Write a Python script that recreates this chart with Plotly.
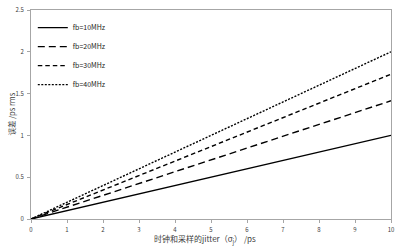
import plotly.graph_objects as go

jitter_ps = [0, 1, 2, 3, 4, 5, 6, 7, 8, 9, 10]
err_10mhz = [0, 0.10, 0.20, 0.30, 0.40, 0.50, 0.60, 0.70, 0.80, 0.90, 1.00]
err_20mhz = [0, 0.141, 0.283, 0.424, 0.566, 0.707, 0.849, 0.990, 1.131, 1.273, 1.414]
err_30mhz = [0, 0.173, 0.346, 0.520, 0.693, 0.866, 1.039, 1.212, 1.386, 1.559, 1.732]
err_40mhz = [0, 0.20, 0.40, 0.60, 0.80, 1.00, 1.20, 1.40, 1.60, 1.80, 2.00]
series_names = ["fb=10MHz", "fb=20MHz", "fb=30MHz", "fb=40MHz"]
series_values = [err_10mhz, err_20mhz, err_30mhz, err_40mhz]
x_ticks = [0, 1, 2, 3, 4, 5, 6, 7, 8, 9, 10]
y_ticks = [0, 0.5, 1, 1.5, 2, 2.5]
y_tick_text = ["0", "0.5", "1", "1.5", "2", "2.5"]
x_title = "时钟和采样的jitter（σ<sub>j</sub>） /ps"
y_title = "误差 /ps rms"

dashes = ["solid", "7px,4px", "4.5px,3px", "2px,1.5px"]
font = "Noto Sans CJK SC"

fig = go.Figure()
for i, (name, vals) in enumerate(zip(series_names, series_values)):
    fig.add_trace(go.Scatter(
        x=jitter_ps, y=vals, mode="lines", name=name,
        legendgroup=f"g{i}",
        line=dict(color="black", width=1.4, dash=dashes[i]),
    ))

axis_common = dict(
    showgrid=False, zeroline=False, showline=True, linecolor="#a6a6a6",
    linewidth=1, mirror=True, ticks="outside", ticklen=3, tickcolor="#a6a6a6",
    tickfont=dict(size=6, color="#404040", family=font), automargin=False,
    ticklabeloverflow="allow",
)

fig.update_layout(
    width=407, height=248,
    margin=dict(l=31, r=16, t=10, b=29),
    paper_bgcolor="white", plot_bgcolor="white",
    font=dict(family=font, color="#222"),
    xaxis=dict(range=[0, 10], tickvals=x_ticks, ticklabelstandoff=2, **axis_common),
    yaxis=dict(range=[0, 2.5], tickvals=y_ticks, ticktext=y_tick_text,
               ticklabelstandoff=2, **axis_common),
    legend=dict(x=0.005, y=0.985, xanchor="left", yanchor="top",
                bgcolor="rgba(0,0,0,0)", font=dict(size=7, family=font, color="#222"),
                itemwidth=30, tracegroupgap=0),
    showlegend=True,
    annotations=[
        dict(text=x_title, xref="paper", yref="paper", x=0.483, y=0,
             yshift=-20, xanchor="center", yanchor="middle", showarrow=False,
             font=dict(size=8, family=font, color="#404040")),
        dict(text=y_title, xref="paper", yref="paper", x=0, y=0.5,
             xshift=-20, xanchor="center", yanchor="middle", textangle=-90,
             showarrow=False, font=dict(size=7.5, family=font, color="#404040")),
    ],
)

fig.write_html("out.html", config={"displayModeBar": False},
               post_script="document.body.style.margin='0';")
